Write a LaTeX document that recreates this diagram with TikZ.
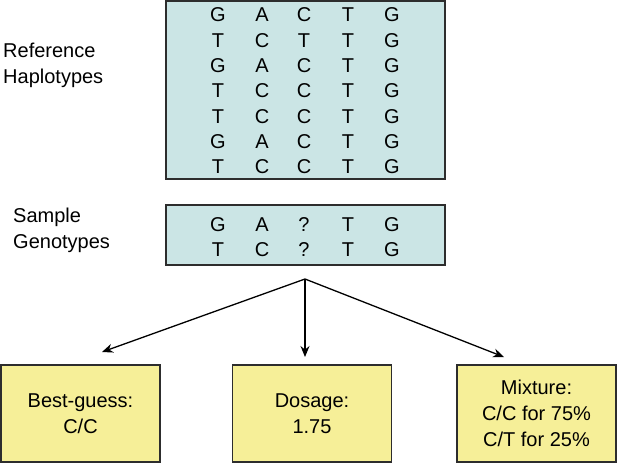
\documentclass[tikz,border=0pt]{standalone}
\usepackage{fontspec}
\setmainfont{Liberation Sans}
\usetikzlibrary{arrows.meta}
\definecolor{haplo}{RGB}{203,229,229}
\definecolor{resbox}{RGB}{246,239,152}
\definecolor{edge}{RGB}{45,45,45}
\begin{document}
\begin{tikzpicture}[x=1pt,y=-1pt,
  panel/.style={draw=edge,line width=1.4pt,fill=haplo,inner sep=0pt},
  result/.style={draw=edge,line width=1.4pt,fill=resbox,inner sep=0pt,
    minimum width=159pt,minimum height=97pt,align=center,
    font=\fontsize{20}{26}\selectfont},
  base/.style={inner sep=0pt,font=\fontsize{20}{24}\selectfont},
  lbl/.style={inner sep=0pt,align=left,anchor=west,font=\fontsize{20}{26}\selectfont},
  conn/.style={line width=1.3pt,-{Stealth[length=11pt,width=9pt]}}]
\useasboundingbox (0,0) rectangle (617,463);
% panels
\node[panel,minimum width=279pt,minimum height=178pt] (ref) at (305.5,90) {};
\node[panel,minimum width=279pt,minimum height=60pt] (samp) at (305.5,235) {};
% reference haplotypes
\foreach \row [count=\r] in {{G,A,C,T,G},{T,C,T,T,G},{G,A,C,T,G},{T,C,C,T,G},{T,C,C,T,G},{G,A,C,T,G},{T,C,C,T,G}}{
  \foreach \b [count=\c] in \row {
    \pgfmathsetmacro{\xx}{{218,262,304,348,392}[\c-1]}
    \node[base] (h\r\c) at (\xx,{15+(\r-1)*25.3}) {\b};
  }
}
% sample genotypes
\foreach \row [count=\r] in {{G,A,?,T,G},{T,C,?,T,G}}{
  \foreach \b [count=\c] in \row {
    \pgfmathsetmacro{\xx}{{218,262,304,348,392}[\c-1]}
    \node[base] (s\r\c) at (\xx,{225+(\r-1)*25}) {\b};
  }
}
% labels
\node[lbl] (reflbl) at (3,65) {Reference\\Haplotypes};
\node[lbl] (samplbl) at (13,230) {Sample\\Genotypes};
% result boxes
\node[result] (best) at (80.5,413.5) {Best-guess:\\C/C};
\node[result] (dos) at (312,413.5) {Dosage:\\1.75};
\node[result,minimum width=159pt] (mix) at (536.5,413.5) {Mixture:\\C/C for 75\%\\C/T for 25\%};
% connectors
\coordinate (apex) at (305,279);
\coordinate (tbest) at (102,352);
\coordinate (tdos) at (305,357);
\coordinate (tmix) at (504,357);
\draw[conn] (apex) -- (tbest);
\draw[conn] (apex) -- (tdos);
\draw[conn] (apex) -- (tmix);
\end{tikzpicture}
\end{document}
